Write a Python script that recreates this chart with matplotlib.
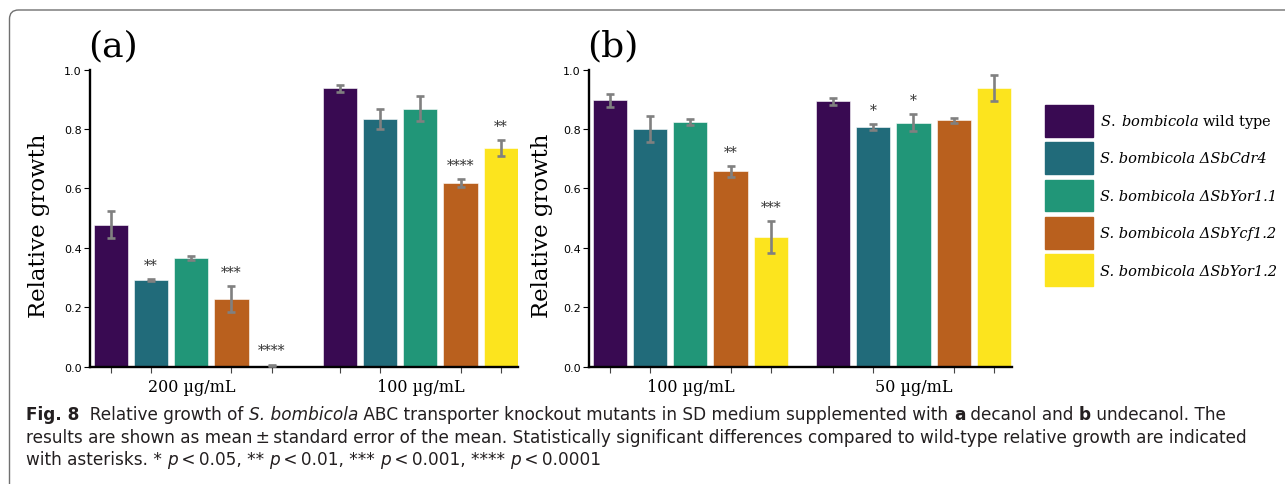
import matplotlib
matplotlib.use("Agg")
import matplotlib.pyplot as plt
import matplotlib.patches as mpatches
from matplotlib.transforms import IdentityTransform
import numpy as np

# strains (legend order) and colours
strains = ["wild type", "ΔSbCdr4", "ΔSbYor1.1", "ΔSbYcf1.2", "ΔSbYor1.2"]
colors = ["#390a52", "#216b7a", "#219678", "#b9601e", "#fce41e"]

# (a) decanol
groups_a = ["200 µg/mL", "100 µg/mL"]
mean_a = [[0.478, 0.292, 0.366, 0.227, 0.004],
          [0.937, 0.834, 0.869, 0.618, 0.736]]
sem_a = [[0.046, 0.003, 0.008, 0.044, 0.003],
         [0.012, 0.035, 0.043, 0.014, 0.026]]
stars_a = [["", "**", "", "***", "****"],
           ["", "", "", "****", "**"]]

# (b) undecanol
groups_b = ["100 µg/mL", "50 µg/mL"]
mean_b = [[0.897, 0.800, 0.824, 0.658, 0.437],
          [0.894, 0.806, 0.822, 0.829, 0.938]]
sem_b = [[0.021, 0.044, 0.010, 0.018, 0.053],
         [0.012, 0.010, 0.029, 0.010, 0.045]]
stars_b = [["", "", "", "**", "***"],
           ["", "*", "*", "", ""]]

W, H = 1285, 485
SERIF = "DejaVu Serif"
plt.rcParams["mathtext.fontset"] = "custom"
plt.rcParams["mathtext.rm"] = SERIF
plt.rcParams["mathtext.it"] = SERIF + ":italic"

fig = plt.figure(figsize=(W / 100, H / 100), dpi=100)


def px_axes(x0, x1, ytop, ybot):
    return fig.add_axes([x0 / W, 1 - ybot / H, (x1 - x0) / W, (ybot - ytop) / H])


def panel(ax, groups, means, sems, stars, gap, xmax, tag):
    bar_x = []
    for g in range(len(groups)):
        xs = np.arange(len(strains)) + g * gap
        for i, x in enumerate(xs):
            ax.bar(x, means[g][i], width=0.85, color=colors[i], edgecolor="white",
                   linewidth=0.4, label=strains[i] if g == 0 else None)
            ax.errorbar(x, means[g][i], yerr=sems[g][i], color="#808080",
                        elinewidth=1.9, capsize=3, capthick=1.9, zorder=3)
            if stars[g][i]:
                ax.text(x, means[g][i] + sems[g][i] + 0.035, stars[g][i],
                        ha="center", va="baseline", fontsize=10,
                        family=SERIF, color="#333333")
        bar_x.extend(xs)
    ax.set_xlim(-0.52, xmax)
    ax.set_ylim(0, 1.0)
    ax.set_yticks(np.arange(0, 1.01, 0.2))
    ax.set_yticklabels([f"{v:.1f}" for v in np.arange(0, 1.01, 0.2)], fontsize=8)
    ax.set_xticks([2 + g * gap for g in range(len(groups))])
    ax.set_xticklabels(groups, family=SERIF, fontsize=11.5)
    ax.set_xticks(bar_x, minor=True)
    ax.tick_params(axis="x", which="major", length=0, pad=8)
    ax.tick_params(axis="x", which="minor", length=4, width=0.8, color="#444444")
    ax.tick_params(axis="y", length=4, width=0.8, pad=2)
    for s in ["top", "right"]:
        ax.spines[s].set_visible(False)
    for s in ["left", "bottom"]:
        ax.spines[s].set_linewidth(1.7)
        ax.spines[s].set_color("black")
    ax.set_ylabel("Relative growth", family=SERIF, fontsize=16.5)
    ax.text(-0.005, 1.026, tag, transform=ax.transAxes, family=SERIF,
            fontsize=26, ha="left", va="bottom")


ax_a = px_axes(90, 518, 70.7, 367.7)
panel(ax_a, groups_a, mean_a, sem_a, stars_a, 5.7, 10.13, "(a)")
ax_a.yaxis.set_label_coords(-0.093, 0.477)

ax_b = px_axes(589, 1012, 70.7, 367.7)
panel(ax_b, groups_b, mean_b, sem_b, stars_b, 5.55, 10.0, "(b)")
ax_b.yaxis.set_label_coords(-0.085, 0.477)

# legend: first label mixes italic and upright, the rest are all italic
handles = [mpatches.Patch(color=c) for c in colors]
labels = [r"$\mathit{S.\;bombicola}$ wild type"] + \
         ["S. bombicola " + s for s in strains[1:]]
leg = fig.legend(handles, labels, loc="upper left",
                 bbox_to_anchor=(1045 / W, 1 - 106 / H), frameon=False,
                 prop=dict(family=SERIF, size=10.5), handlelength=3.3,
                 handleheight=2.95, labelspacing=0.4,
                 handletextpad=0.45, borderpad=0, borderaxespad=0)
for t in leg.get_texts()[1:]:
    t.set_fontstyle("italic")

# rounded frame, only the top-left corner is visible
frame = mpatches.FancyBboxPatch((9.5, -60), 1400, 485 - 11 + 60,
                                boxstyle="round,pad=0,rounding_size=9",
                                transform=IdentityTransform(), fill=False,
                                edgecolor="#707070", linewidth=1.0)
fig.patches.append(frame)

# caption with mixed styles
CAP = ["DejaVu Sans"]
renderer = fig.canvas.get_renderer()

line1 = [("Fig. 8", "b"), ("  Relative growth of ", "n"), ("S. bombicola", "i"),
         (" ABC transporter knockout mutants in SD medium supplemented with ", "n"),
         ("a", "b"), (" decanol and ", "n"), ("b", "b"), (" undecanol. The", "n")]
line2 = [("results are shown as mean\u2009±\u2009standard error of the mean. Statistically "
          "significant differences compared to wild-type relative growth are indicated", "n")]
line3 = [("with asterisks. * ", "n"), ("p", "i"), ("\u2009<\u20090.05, ** ", "n"),
         ("p", "i"), ("\u2009<\u20090.01, *** ", "n"), ("p", "i"),
         ("\u2009<\u20090.001, **** ", "n"), ("p", "i"), ("\u2009<\u20090.0001", "n")]


def style_kw(st, size):
    kw = dict(family=CAP, fontsize=size, color="#231f20")
    if st == "b":
        kw["weight"] = "bold"
    if st == "i":
        kw["style"] = "italic"
    return kw


def text_width(s, st, size):
    t = fig.text(0, 0, "|" + s + "|", **style_kw(st, size))
    w1 = t.get_window_extent(renderer).width
    t.set_text("||")
    w2 = t.get_window_extent(renderer).width
    t.remove()
    return w1 - w2


def rich_line(x, y, parts, size):
    for s, st in parts:
        fig.text(x / W, 1 - y / H, s, va="baseline", ha="left", **style_kw(st, size))
        x += text_width(s, st, size)


# size the caption so that the first line runs from x=26 to x=1228, as in the figure
w10 = sum(text_width(s, st, 10) for s, st in line1)
cap_size = 10 * (1228 - 26) / w10

rich_line(26, 420, line1, cap_size)
rich_line(26, 443, line2, cap_size)
rich_line(26, 465, line3, cap_size)

fig.savefig("out.png", dpi=100)
